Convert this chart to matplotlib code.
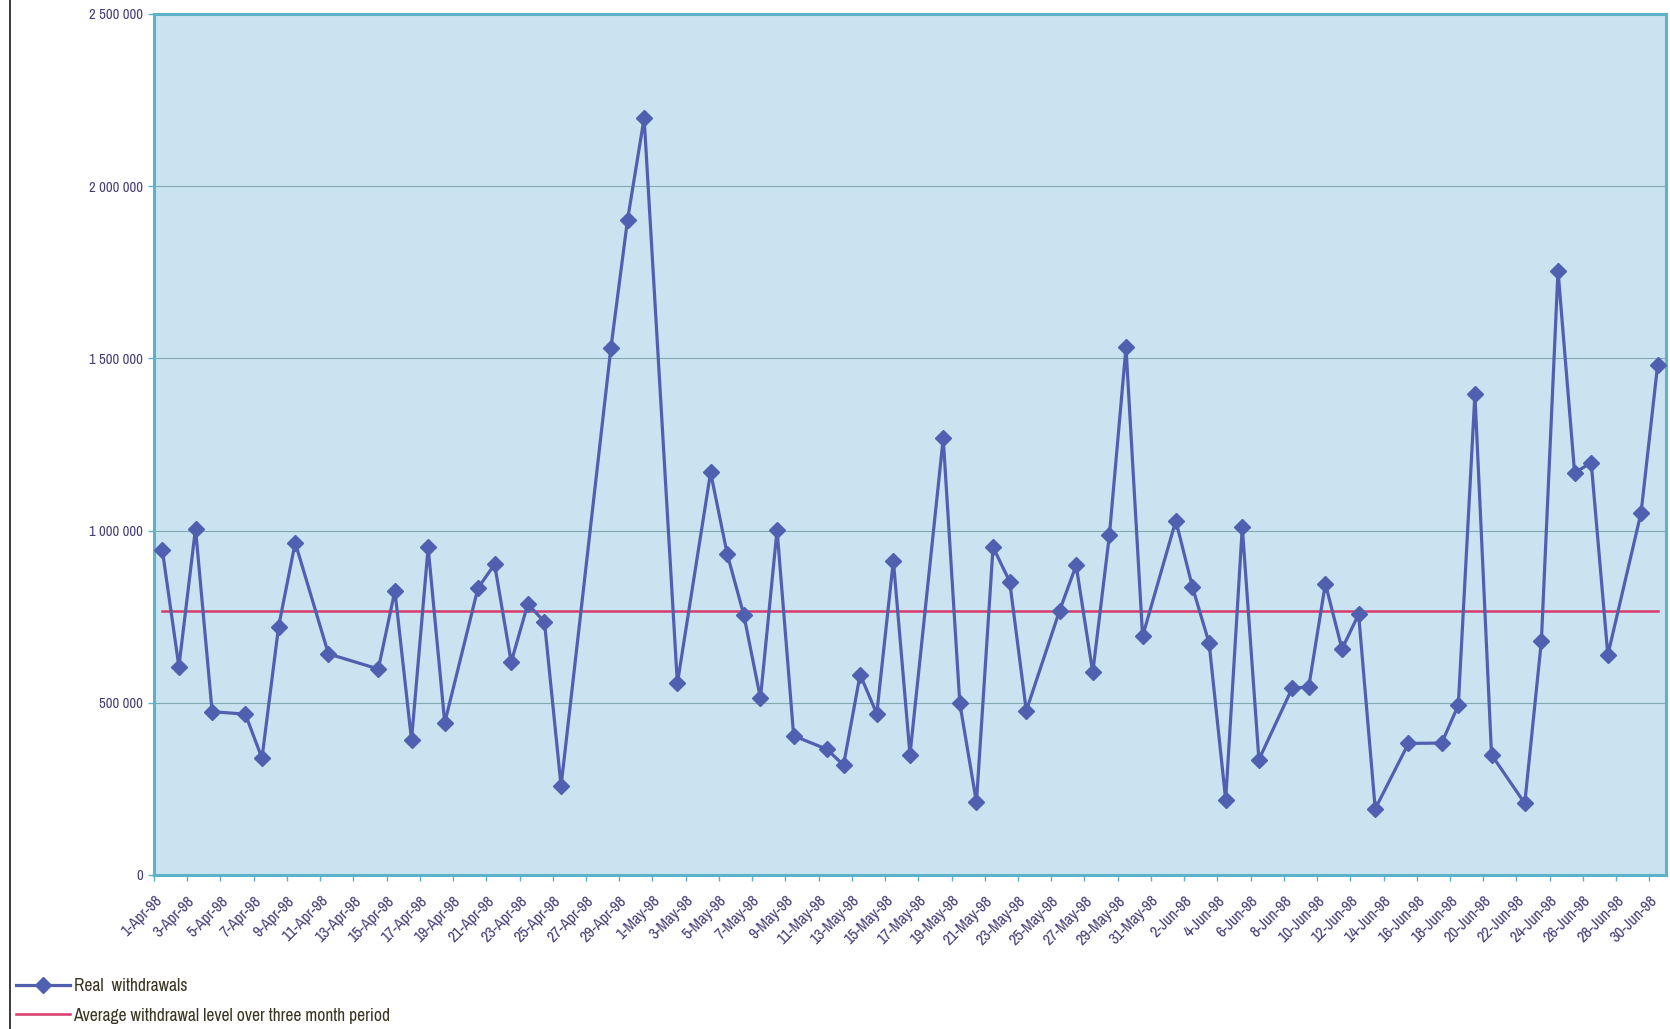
import matplotlib
matplotlib.use("Agg")
import matplotlib.pyplot as plt
import matplotlib.dates as mdates
import matplotlib.ticker as mticker
import pandas as pd
from matplotlib.lines import Line2D

# ---- data ----
dates = [
    "1998-04-01", "1998-04-02", "1998-04-03", "1998-04-04", "1998-04-06", "1998-04-07",
    "1998-04-08", "1998-04-09", "1998-04-11", "1998-04-14", "1998-04-15", "1998-04-16",
    "1998-04-17", "1998-04-18", "1998-04-20", "1998-04-21", "1998-04-22", "1998-04-23",
    "1998-04-24", "1998-04-25", "1998-04-28", "1998-04-29", "1998-04-30", "1998-05-02",
    "1998-05-04", "1998-05-05", "1998-05-06", "1998-05-07", "1998-05-08", "1998-05-09",
    "1998-05-11", "1998-05-12", "1998-05-13", "1998-05-14", "1998-05-15", "1998-05-16",
    "1998-05-18", "1998-05-19", "1998-05-20", "1998-05-21", "1998-05-22", "1998-05-23",
    "1998-05-25", "1998-05-26", "1998-05-27", "1998-05-28", "1998-05-29", "1998-05-30",
    "1998-06-01", "1998-06-02", "1998-06-03", "1998-06-04", "1998-06-05", "1998-06-06",
    "1998-06-08", "1998-06-09", "1998-06-10", "1998-06-11", "1998-06-12", "1998-06-13",
    "1998-06-15", "1998-06-17", "1998-06-18", "1998-06-19", "1998-06-20", "1998-06-22",
    "1998-06-23", "1998-06-24", "1998-06-25", "1998-06-26", "1998-06-27", "1998-06-29",
    "1998-06-30",
]
real_withdrawals = [
    944000, 605000, 1006000, 474000, 467000, 339000,
    721000, 965000, 642000, 598000, 825000, 392000,
    951000, 442000, 833000, 902000, 618000, 787000,
    735000, 258000, 1530000, 1902000, 2198000, 556000,
    1169000, 932000, 755000, 513000, 1002000, 404000,
    365000, 319000, 582000, 468000, 913000, 349000,
    1268000, 498000, 211000, 952000, 852000, 477000,
    767000, 899000, 588000, 986000, 1532000, 693000,
    1029000, 836000, 674000, 218000, 1010000, 335000,
    542000, 546000, 846000, 656000, 757000, 192000,
    382000, 383000, 493000, 1396000, 349000, 208000,
    679000, 1755000, 1168000, 1197000, 639000, 1052000,
    1482000,
]
average_level = 766000
y_ticks = [0, 500000, 1000000, 1500000, 2000000, 2500000]
series_labels = ["Real  withdrawals", "Average withdrawal level over three month period"]

# ---- styling ----
FONT = ["Archivo Narrow", "DejaVu Sans"]
plt.rcParams["font.family"] = FONT
tick_color = "#483c78"
frame_color = "#5cb2c8"
blue = "#5060b0"
red = "#d83a6c"

fig = plt.figure(figsize=(16.70, 10.29), dpi=100)
ax = fig.add_axes([0.0922, 0.1497, 0.9054, 0.8367])
ax.set_facecolor("#cae3f0")

x = pd.to_datetime(dates) + pd.Timedelta(hours=12)
avg_series = [average_level for _ in dates]

ax.plot(x, avg_series, color=red, lw=1.8, zorder=3)
ax.plot(x, real_withdrawals, color=blue, lw=2.3, marker="D", ms=8.5,
        mfc=blue, mec=blue, zorder=4)

ax.set_ylim(0, 2500000)
ax.set_yticks(y_ticks)
ax.yaxis.set_major_formatter(mticker.FuncFormatter(lambda v, p: f"{v:,.0f}".replace(",", " ")))
ax.yaxis.grid(True, color="#84aab0", lw=0.8, zorder=1)
ax.set_axisbelow(True)

ax.set_xlim(pd.Timestamp("1998-04-01"), pd.Timestamp("1998-07-01"))
xt = pd.date_range("1998-04-01", "1998-06-30", freq="2D")
ax.set_xticks(xt)
ax.xaxis.set_major_formatter(mdates.DateFormatter("%-d-%b-%y"))

for s in ax.spines.values():
    s.set_color(frame_color)
    s.set_linewidth(2.2)

ax.tick_params(axis="both", direction="out", length=4, width=1, color=frame_color,
               labelcolor=tick_color)
ax.tick_params(axis="x", pad=9, labelsize=11.5)
ax.tick_params(axis="y", pad=4, labelsize=10.5)
for lab in ax.get_xticklabels():
    lab.set_rotation(45)
    lab.set_ha("right")
    lab.set_rotation_mode("anchor")
    lab.set_fontweight("medium")
for lab in ax.get_yticklabels():
    lab.set_fontweight("medium")

# legend
h1 = Line2D([], [], color=blue, lw=2.3, marker="D", ms=8.5, mfc=blue, mec=blue)
h2 = Line2D([], [], color=red, lw=1.8)
leg = fig.legend([h1, h2], series_labels, loc="lower left",
                 bbox_to_anchor=(0.0, -0.010), frameon=False,
                 prop={"size": 12.6, "weight": "medium"},
                 handlelength=3.1, handletextpad=0.2, labelspacing=0.78, borderpad=0.4)
for t in leg.get_texts():
    t.set_color("#3a3522")

# scanned page border on the left
fig.add_artist(Line2D([0.006, 0.006], [0, 1], color="#3a3a3a", lw=1.4,
                      transform=fig.transFigure))

fig.savefig("out.png", dpi=100, facecolor="white")
